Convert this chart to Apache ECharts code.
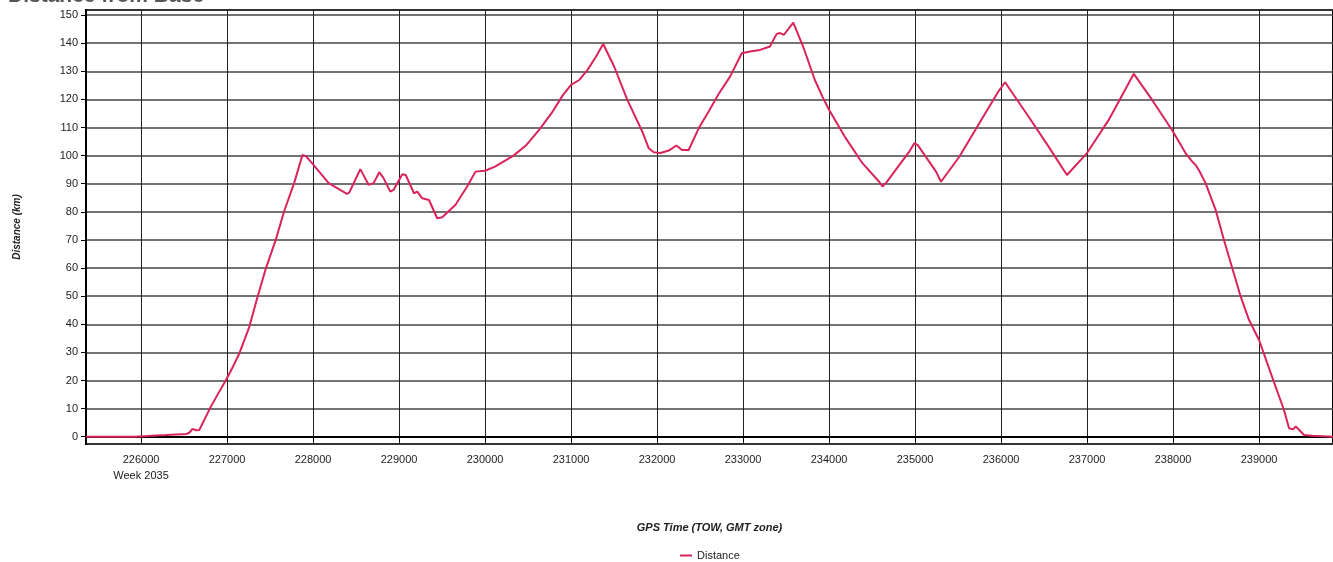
<!DOCTYPE html>
<html>
<head>
<meta charset="utf-8">
<script src="https://cdn.jsdelivr.net/npm/echarts@6/dist/echarts.min.js"></script>
<style>
html,body{margin:0;padding:0;background:#fff;}
#chart{width:1333px;height:562px;}
</style>
</head>
<body>
<div id="chart"></div>
<script>
// GPS time of week (s)
var gpsTime = [
225360,225920,225925,226290,226300,226530,226560,226599,226640,226677,
226812,226900,226988,227070,227144,227259,227355,227452,227568,227664,
227780,227877,227916,227988,228182,228394,228420,228550,228646,228704,
228770,228820,228898,228936,229038,229078,229174,229212,229270,229348,
229444,229502,229657,229792,229889,230000,230116,230327,230482,230638,
230773,230907,231000,231096,231192,231289,231374,231397,231501,231655,
231829,231904,231962,232039,232136,232225,232290,232368,232484,232600,
232716,232849,232985,233081,233197,233313,233391,233429,233476,233584,
233603,233699,233835,233923,234000,234194,234388,234583,234621,234661,
234933,234991,235030,235244,235302,235321,235515,235735,235969,236047,
236065,236319,236553,236766,236786,237000,237252,237544,237564,237757,
237988,238145,238222,238261,238300,238320,238378,238495,238592,238689,
238787,238884,239000,239155,239290,239349,239395,239427,239524,239620,
239860
];
// Distance from base (km)
var distance = [
0,0,0.6,0.6,1.0,1.0,1.4,2.8,2.3,2.4,
10.7,15.5,20.2,25.0,29.7,39.1,49.8,59.9,70.2,80.2,
90.2,100.2,99.8,97.3,90.2,86.4,86.8,95.2,89.6,90.2,
94.1,92,87.2,87.8,93.4,93.1,86.6,87.2,84.8,84.2,
77.7,78.1,82.5,89,94.3,94.6,96.1,99.9,103.8,109.5,
115.1,121.6,125.2,126.9,130.5,135.2,139.7,139.4,131.7,119.8,
108.5,102.6,101.2,100.9,101.8,103.6,102,102,109.7,115.7,
121.9,128.1,136.4,137,137.6,138.8,143.3,143.6,143,147.3,
147.1,138.8,126.9,121,116.3,106.2,97.3,90.7,89,90.2,
101.4,104.4,103.8,94.3,90.7,91.4,99.6,110.9,122.8,126.1,
125.8,113.9,103.2,93.1,92.9,100.9,112.7,129.1,128.7,119.8,
109.1,100.9,97.9,96.7,94.9,94.7,90.2,80.7,70,59.9,
49.8,41.5,34.4,21,9.5,3,2.6,3.6,0.6,0.3,
0
];
var seriesName = 'Distance';
var weekLabel = 'Week 2035';

var points = gpsTime.map(function (t, i) { return [t, distance[i]]; });
var FONT = 'Arial, "Liberation Sans", sans-serif';

var chart = echarts.init(document.getElementById('chart'), null, {renderer: 'canvas'});
chart.setOption({
  animation: false,
  backgroundColor: '#fff',
  title: {
    text: 'Distance from Base',
    left: 3, top: -19,
    textStyle: {fontFamily: FONT, fontSize: 21, fontWeight: 'bold', color: '#555'}
  },
  legend: {
    data: [seriesName],
    left: 675, top: 545,
    icon: 'rect', itemWidth: 12, itemHeight: 2, itemGap: 4,
    textStyle: {fontFamily: FONT, fontSize: 11, color: '#222'}
  },
  grid: {
    left: 86, right: -3, top: 10, bottom: 118,
    show: true, borderColor: '#000', borderWidth: 2, backgroundColor: '#fff'
  },
  xAxis: {
    type: 'value',
    min: 225360, max: 239860, splitNumber: 14,
    name: 'GPS Time (TOW, GMT zone)',
    nameLocation: 'middle', nameGap: 78,
    nameTextStyle: {fontFamily: FONT, fontSize: 11, fontWeight: 'bold', fontStyle: 'italic', color: '#222'},
    axisLine: {show: true, lineStyle: {color: '#000', width: 2}},
    axisTick: {show: true, length: 5, lineStyle: {color: '#000', width: 1}},
    axisLabel: {
      fontFamily: FONT, fontSize: 11, color: '#222', margin: 8, lineHeight: 16,
      showMinLabel: false, showMaxLabel: false,
      formatter: function (v) { return v === 226000 ? v + '\n' + weekLabel : String(v); }
    },
    splitLine: {show: true, lineStyle: {color: '#222', width: 1}}
  },
  yAxis: {
    type: 'value',
    min: -2.6, max: 151.8, splitNumber: 15,
    name: 'Distance (km)',
    nameLocation: 'middle', nameGap: 64, nameRotate: 90,
    nameTextStyle: {fontFamily: FONT, fontSize: 10, fontWeight: 'bold', fontStyle: 'italic', color: '#222'},
    axisLine: {show: true, lineStyle: {color: '#000', width: 2}},
    axisTick: {show: true, length: 5, lineStyle: {color: '#000', width: 1}},
    axisLabel: {
      fontFamily: FONT, fontSize: 11, color: '#222', margin: 8,
      showMinLabel: false, showMaxLabel: false
    },
    splitLine: {show: true, lineStyle: {color: '#444', width: 1.5}}
  },
  series: [{
    name: seriesName,
    type: 'line',
    data: points,
    showSymbol: false,
    symbol: 'none',
    lineStyle: {color: '#d9245a', width: 2},
    itemStyle: {color: '#d9245a'}
  }]
});
</script>
</body>
</html>
